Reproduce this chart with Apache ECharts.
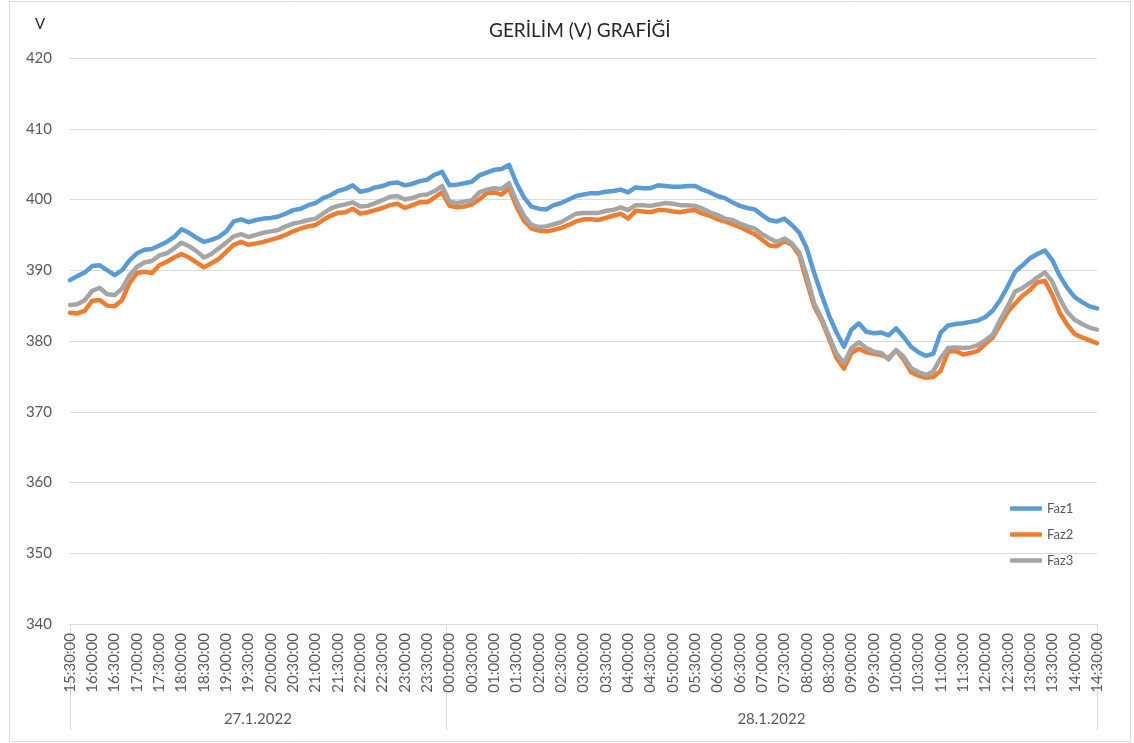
<!DOCTYPE html>
<html>
<head>
<meta charset="utf-8">
<script src="https://cdn.jsdelivr.net/npm/echarts@6/dist/echarts.min.js"></script>
<style>
  html, body { margin: 0; padding: 0; background: #ffffff; }
  #chart { width: 1134px; height: 743px; }
</style>
</head>
<body>
<div id="chart"></div>
<script>
// Voltage readings every 10 minutes, 27.1.2022 15:30 -> 28.1.2022 14:30
const startTime = '15:30:00';
const stepMinutes = 10;
const days = ['27.1.2022', '28.1.2022'];
const seriesNames = ['Faz1', 'Faz2', 'Faz3'];

const faz1 = [
  388.6, 389.2, 389.7, 390.6, 390.7, 390.0, 389.3, 390.0, 391.4, 392.4,
  392.9, 393.0, 393.5, 394.0, 394.7, 395.8, 395.3, 394.6, 394.0, 394.3,
  394.7, 395.5, 396.9, 397.2, 396.8, 397.1, 397.3, 397.4, 397.6, 398.0,
  398.5, 398.7, 399.2, 399.5, 400.2, 400.6, 401.2, 401.5, 402.0, 401.1,
  401.3, 401.7, 401.9, 402.3, 402.4, 402.0, 402.2, 402.6, 402.8, 403.5,
  403.9, 402.0, 402.1, 402.3, 402.5, 403.4, 403.8, 404.2, 404.3, 404.9,
  402.3, 400.3, 399.0, 398.7, 398.6, 399.2, 399.5, 400.0, 400.5, 400.7,
  400.9, 400.9, 401.1, 401.2, 401.4, 401.0, 401.7, 401.6, 401.6, 402.0,
  401.9, 401.8, 401.8, 401.9, 401.9, 401.4, 401.0, 400.5, 400.2, 399.6,
  399.1, 398.8, 398.6, 397.8, 397.1, 396.9, 397.3, 396.4, 395.3, 393.1,
  389.6, 386.5, 383.6, 381.2, 379.2, 381.6, 382.5, 381.3, 381.1, 381.2,
  380.8, 381.8, 380.6, 379.2, 378.4, 377.9, 378.2, 381.2, 382.2, 382.4,
  382.5, 382.7, 382.9, 383.4, 384.3, 385.8, 387.7, 389.8, 390.7, 391.7,
  392.3, 392.8, 391.4, 389.2, 387.5, 386.2, 385.5, 384.9, 384.6
];

const faz2 = [
  384.0, 383.9, 384.3, 385.7, 385.8, 385.0, 384.9, 385.8, 388.2, 389.6,
  389.8, 389.6, 390.7, 391.2, 391.8, 392.3, 391.8, 391.1, 390.4, 391.0,
  391.6, 392.6, 393.6, 394.0, 393.6, 393.8, 394.0, 394.3, 394.6, 395.0,
  395.5, 395.9, 396.2, 396.4, 397.1, 397.7, 398.1, 398.2, 398.7, 398.0,
  398.2, 398.5, 398.8, 399.2, 399.4, 398.8, 399.2, 399.6, 399.6, 400.3,
  401.0, 399.1, 398.9, 399.0, 399.3, 400.0, 400.9, 401.0, 400.7, 401.6,
  399.0, 397.0, 395.9, 395.6, 395.5, 395.7, 396.0, 396.4, 396.9, 397.2,
  397.2, 397.1, 397.4, 397.7, 398.0, 397.3, 398.4, 398.3, 398.2, 398.5,
  398.5, 398.3, 398.2, 398.4, 398.5, 398.0, 397.7, 397.2, 396.9, 396.5,
  396.1, 395.6, 395.1, 394.3, 393.5, 393.4, 394.1, 393.6, 392.1, 388.4,
  384.9, 382.9, 380.3, 377.6, 376.1, 378.3, 378.9, 378.4, 378.2, 378.0,
  377.6, 378.7, 377.4, 375.6, 375.1, 374.8, 374.9, 375.8, 378.5, 378.6,
  378.1, 378.3, 378.6, 379.6, 380.5, 382.3, 384.1, 385.3, 386.4, 387.2,
  388.3, 388.5, 386.5, 384.0, 382.3, 381.0, 380.5, 380.1, 379.7
];

const faz3 = [
  385.1, 385.2, 385.8, 387.1, 387.5, 386.6, 386.5, 387.4, 389.3, 390.5,
  391.1, 391.3, 392.1, 392.4, 393.1, 393.9, 393.4, 392.7, 391.8, 392.3,
  393.1, 393.9, 394.8, 395.1, 394.7, 395.0, 395.3, 395.5, 395.7, 396.2,
  396.6, 396.8, 397.1, 397.3, 398.0, 398.7, 399.1, 399.3, 399.6, 399.0,
  399.1, 399.5, 399.9, 400.4, 400.5, 400.0, 400.2, 400.6, 400.7, 401.2,
  401.9, 399.7, 399.5, 399.7, 399.9, 401.0, 401.4, 401.6, 401.5, 402.3,
  399.7, 397.7, 396.4, 396.1, 396.2, 396.5, 396.8, 397.4, 398.0, 398.1,
  398.1, 398.1, 398.4, 398.5, 398.9, 398.5, 399.2, 399.2, 399.1, 399.3,
  399.5, 399.4, 399.2, 399.2, 399.1, 398.7, 398.2, 397.8, 397.3, 397.1,
  396.6, 396.2, 395.9, 395.1, 394.5, 394.0, 394.5, 393.8, 392.5, 389.2,
  385.3, 383.2, 380.7, 378.2, 376.9, 379.0, 379.8, 379.0, 378.5, 378.3,
  377.4, 378.7, 377.8, 376.2, 375.6, 375.2, 375.7, 377.6, 379.0, 379.1,
  379.0, 379.1, 379.4, 380.1, 380.9, 383.0, 384.9, 387.0, 387.5, 388.2,
  389.0, 389.7, 388.4, 386.0, 384.1, 383.0, 382.4, 381.9, 381.6
];

// Time-of-day category labels (HH:MM:SS), one per reading
function buildTimes(start, step, count) {
  const p = start.split(':').map(Number);
  let m = p[0] * 60 + p[1];
  const out = [];
  for (let i = 0; i < count; i++) {
    const t = ((m % 1440) + 1440) % 1440;
    const hh = String(Math.floor(t / 60)).padStart(2, '0');
    const mm = String(t % 60).padStart(2, '0');
    out.push(hh + ':' + mm + ':00');
    m += step;
  }
  return out;
}
const times = buildTimes(startTime, stepMinutes, faz1.length);

// Day groups: boundaries sit halfway between the last reading of a day and the first of the next
const lastIdx = times.length - 1;
const midnight = times.indexOf('00:00:00') - 0.5;
const dayBounds = [0, midnight, lastIdx];
const dayCenters = [(dayBounds[0] + dayBounds[1]) / 2, (dayBounds[1] + dayBounds[2]) / 2];

const FONT = 'Lato';
const TXT = '#595959';
const GRID = '#d9d9d9';
const colors = ['#5B9BD5', '#ED7D31', '#A5A5A5'];

const chart = echarts.init(document.getElementById('chart'), null, { renderer: 'canvas' });

chart.setOption({
  backgroundColor: '#ffffff',
  animation: false,
  color: colors,
  textStyle: { fontFamily: FONT },
  title: {
    text: 'GERİLİM (V) GRAFİĞİ',
    left: 484,
    top: 16,
    textStyle: { fontFamily: FONT, fontSize: 19, fontWeight: 'normal', color: '#262626' }
  },
  graphic: [{
    type: 'rect',
    silent: true,
    shape: { x: 9.5, y: 1.5, width: 1121, height: 740 },
    style: { fill: 'none', stroke: GRID, lineWidth: 1 }
  }],
  legend: {
    orient: 'vertical',
    left: 1005,
    top: 496,
    icon: 'roundRect',
    itemWidth: 32,
    itemHeight: 4.5,
    itemGap: 11,
    data: seriesNames,
    textStyle: { fontFamily: FONT, fontSize: 13, color: TXT, lineHeight: 15 }
  },
  grid: { left: 70, right: 37, top: 58, bottom: 119, containLabel: false },
  xAxis: [{
    type: 'category',
    data: times,
    boundaryGap: false,
    axisLine: { show: true, lineStyle: { color: GRID } },
    axisTick: { show: false },
    axisLabel: {
      interval: 2,
      rotate: 90,
      margin: 9,
      fontFamily: FONT,
      fontSize: 15,
      color: TXT
    },
    splitLine: { show: false }
  }, {
    type: 'value',
    position: 'bottom',
    min: 0,
    max: lastIdx,
    axisLine: { show: false },
    splitLine: { show: false },
    axisTick: {
      show: true,
      customValues: dayBounds,
      length: 106,
      lineStyle: { color: GRID, width: 1 }
    },
    axisLabel: {
      show: true,
      customValues: dayCenters,
      margin: 88,
      fontFamily: FONT,
      fontSize: 15,
      color: TXT,
      formatter: function (v) { return v < midnight ? days[0] : days[1]; }
    }
  }],
  yAxis: {
    type: 'value',
    min: 340,
    max: 420,
    interval: 10,
    name: 'V',
    nameLocation: 'end',
    nameGap: 26,
    nameTextStyle: { fontFamily: FONT, fontSize: 15, color: '#262626', padding: [0, 60, 0, 0] },
    axisLine: { show: false },
    axisTick: { show: false },
    axisLabel: { margin: 18, fontFamily: FONT, fontSize: 15, color: TXT },
    splitLine: { lineStyle: { color: GRID, width: 1 } }
  },
  series: [faz1, faz2, faz3].map(function (d, k) {
    return {
      name: seriesNames[k],
      type: 'line',
      data: d,
      xAxisIndex: 0,
      symbol: 'none',
      smooth: false,
      itemStyle: { color: colors[k] },
      lineStyle: { width: 4.5, color: colors[k], cap: 'round', join: 'round' }
    };
  })
});
</script>
</body>
</html>
